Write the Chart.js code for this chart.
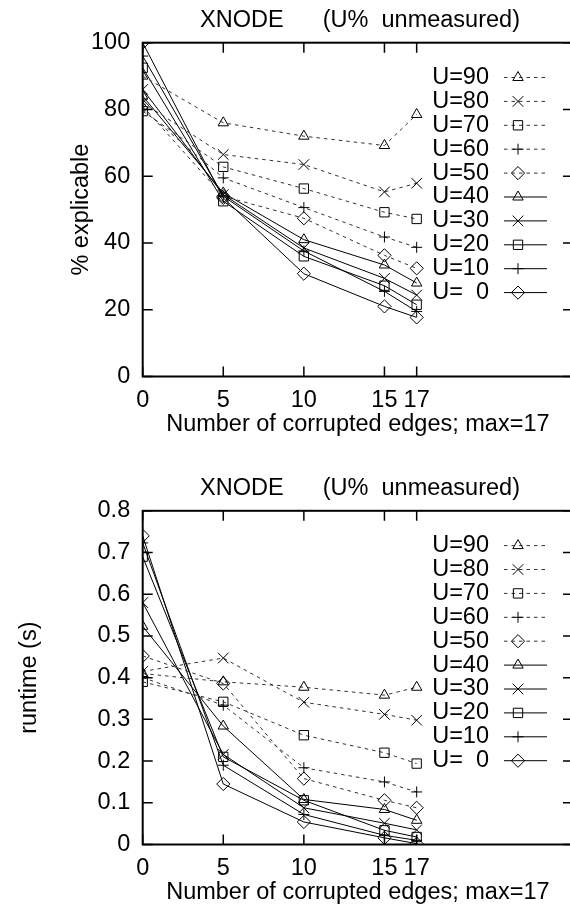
<!DOCTYPE html>
<html><head><meta charset="utf-8">
<script src="https://cdn.jsdelivr.net/npm/chart.js@4/dist/chart.umd.min.js"></script>
<style>
html,body{margin:0;padding:0;background:#fff;overflow:hidden;width:570px;height:907px;position:relative;}
.wrap{position:absolute;left:0;width:600px;}
canvas{display:block;}
</style></head><body>
<div class="wrap" style="top:0;height:453px"><canvas id="c1" width="600" height="453"></canvas></div>
<div class="wrap" style="top:453px;height:454px"><canvas id="c2" width="600" height="454"></canvas></div>
<script>
// ---------------- data ----------------
const edges = [0, 5, 10, 15, 17];
const xTickValues = [0, 5, 10, 15, 17];
const seriesLabels = ['U=90', 'U=80', 'U=70', 'U=60', 'U=50', 'U=40', 'U=30', 'U=20', 'U=10', 'U=  0'];

const explicableU90 = [90, 76, 72, 69.2, 78.5];
const explicableU80 = [82, 66.5, 63.5, 55.3, 57.9];
const explicableU70 = [79.5, 62.8, 56.3, 49.2, 47.2];
const explicableU60 = [80, 59.5, 50.6, 41.8, 38.7];
const explicableU50 = [81, 54, 47.4, 36.3, 32.4];
const explicableU40 = [84, 55, 41, 33.4, 28];
const explicableU30 = [86, 54.5, 38.5, 29.4, 24.4];
const explicableU20 = [92.5, 52.5, 36, 27.2, 21.5];
const explicableU10 = [96, 54, 37.6, 25.5, 19.5];
const explicableU0  = [100, 53.5, 30.8, 21, 17.7];

const runtimeU90 = [0.41, 0.39, 0.377, 0.358, 0.377];
const runtimeU80 = [0.415, 0.447, 0.341, 0.312, 0.298];
const runtimeU70 = [0.39, 0.342, 0.262, 0.22, 0.194];
const runtimeU60 = [0.40, 0.334, 0.184, 0.15, 0.126];
const runtimeU50 = [0.452, 0.386, 0.158, 0.106, 0.088];
const runtimeU40 = [0.523, 0.284, 0.108, 0.084, 0.058];
const runtimeU30 = [0.58, 0.216, 0.088, 0.051, 0.035];
const runtimeU20 = [0.69, 0.21, 0.106, 0.034, 0.018];
const runtimeU10 = [0.723, 0.19, 0.072, 0.022, 0.01];
const runtimeU0  = [0.74, 0.145, 0.054, 0.016, 0.002];

const explicableTicks = [0, 20, 40, 60, 80, 100];
const runtimeTicks = [0, 0.1, 0.2, 0.3, 0.4, 0.5, 0.6, 0.7, 0.8];

const chartTitle = 'XNODE      (U%  unmeasured)';
const xTitle = 'Number of corrupted edges; max=17';
const explicableTitle = '% explicable';
const runtimeTitle = 'runtime (s)';

// ---------------- styles ----------------
const FONT = '"Liberation Sans", Arial, Helvetica, sans-serif';
const FS = 23.5;
const markerStyles = ['triangle', 'crossRot', 'rect', 'cross', 'rectRot'];
const markerRadius = {triangle: 6, crossRot: 7.5, rect: 6.6, cross: 5.5, rectRot: 6.6};

function buildDatasets(seriesList) {
  return seriesList.map((vals, i) => {
    const ps = markerStyles[i % 5];
    const dashed = i < 5;
    return {
      label: seriesLabels[i],
      data: edges.map((e, k) => ({x: e, y: vals[k]})),
      borderColor: dashed ? '#333' : '#000',
      borderWidth: 1,
      borderDash: dashed ? [3.5, 4] : [],
      pointStyle: ps,
      pointRadius: markerRadius[ps],
      pointBorderWidth: 1,
      pointBorderColor: '#000',
      pointBackgroundColor: 'rgba(0,0,0,0)',
      fill: false,
      tension: 0
    };
  });
}

const gnuplotPlugin = {
  id: 'gnuplotLook',
  beforeDatasetsDraw(chart) {
    const {ctx, chartArea: a, scales: {x, y}} = chart;
    const o = chart.options.plugins.gnuplotLook;
    ctx.save();
    ctx.strokeStyle = '#000';
    ctx.lineWidth = 1.5;
    ctx.beginPath();
    for (const v of xTickValues) {
      const px = x.getPixelForValue(v);
      ctx.moveTo(px, a.bottom); ctx.lineTo(px, a.bottom - 10);
      ctx.moveTo(px, a.top); ctx.lineTo(px, a.top + 10);
    }
    for (const v of o.yTicks) {
      const py = y.getPixelForValue(v);
      ctx.moveTo(a.left, py); ctx.lineTo(a.left + 10, py);
      ctx.moveTo(a.right, py); ctx.lineTo(a.right - 10, py);
    }
    ctx.stroke();
    ctx.lineWidth = 2;
    ctx.strokeRect(a.left, a.top, a.right - a.left, a.bottom - a.top);
    ctx.restore();
  },
  afterDraw(chart) {
    const {ctx, chartArea: a} = chart;
    const o = chart.options.plugins.gnuplotLook;
    ctx.save();
    ctx.fillStyle = '#000';
    ctx.font = FS + 'px ' + FONT;
    ctx.textBaseline = 'middle';
    // main title
    ctx.textAlign = 'center';
    ctx.fillText(chartTitle, 360, a.top - 22);
    // x title
    ctx.fillText(xTitle, (a.left + a.right) / 2, a.bottom + 48);
    // y title
    ctx.save();
    ctx.translate(o.yTitleX, (a.top + a.bottom) / 2);
    ctx.rotate(-Math.PI / 2);
    ctx.fillText(o.yTitle, 0, 0);
    ctx.restore();
    // legend
    chart.data.datasets.forEach((ds, i) => {
      const ly = a.top + 34.8 + i * 23.9;
      ctx.textAlign = 'right';
      ctx.fillStyle = '#000';
      ctx.fillText(ds.label, a.right - 84, ly);
      ctx.save();
      ctx.strokeStyle = ds.borderColor;
      ctx.lineWidth = 1;
      ctx.setLineDash(ds.borderDash);
      ctx.beginPath();
      ctx.moveTo(a.right - 69, ly); ctx.lineTo(a.right - 26, ly);
      ctx.stroke();
      ctx.setLineDash([]);
      ctx.strokeStyle = '#000';
      ctx.fillStyle = 'rgba(0,0,0,0)';
      Chart.helpers.drawPoint(ctx, {pointStyle: ds.pointStyle, radius: ds.pointRadius, borderWidth: 1, rotation: 0}, a.right - 55, ly);
      ctx.restore();
    });
    ctx.restore();
  }
};

function makeChart(id, datasets, yTicks, yMax, yTitle, yTitleX, padTop, padBottom) {
  return new Chart(document.getElementById(id), {
    type: 'line',
    data: {datasets},
    options: {
      responsive: false,
      animation: false,
      devicePixelRatio: 1,
      layout: {padding: {left: 0, right: 27, top: padTop, bottom: padBottom}},
      plugins: {
        legend: {display: false},
        title: {display: false},
        tooltip: {enabled: false},
        gnuplotLook: {yTicks, yTitle, yTitleX}
      },
      scales: {
        x: {
          type: 'linear', min: 0, max: 26.7,
          grid: {display: false, drawTicks: false},
          border: {display: false},
          afterBuildTicks: s => { s.ticks = xTickValues.map(v => ({value: v})); },
          afterFit: s => { s.height = 60; },
          ticks: {autoSkip: false, maxRotation: 0, padding: 10, color: '#000', font: {family: FONT, size: FS}, callback: v => String(v)}
        },
        y: {
          type: 'linear', min: 0, max: yMax,
          grid: {display: false, drawTicks: false},
          border: {display: false},
          afterBuildTicks: s => { s.ticks = yTicks.map(v => ({value: v})); },
          afterFit: s => { s.width = 142.7; },
          ticks: {autoSkip: false, padding: 12.5, color: '#000', font: {family: FONT, size: FS}, callback: v => String(v)}
        }
      }
    },
    plugins: [gnuplotPlugin]
  });
}

makeChart('c1', buildDatasets([explicableU90, explicableU80, explicableU70, explicableU60, explicableU50,
  explicableU40, explicableU30, explicableU20, explicableU10, explicableU0]),
  explicableTicks, 100, explicableTitle, 82, 42.7, 16.5);

makeChart('c2', buildDatasets([runtimeU90, runtimeU80, runtimeU70, runtimeU60, runtimeU50,
  runtimeU40, runtimeU30, runtimeU20, runtimeU10, runtimeU0]),
  runtimeTicks, 0.8, runtimeTitle, 30, 57.8, 2.5);
</script>
</body></html>
